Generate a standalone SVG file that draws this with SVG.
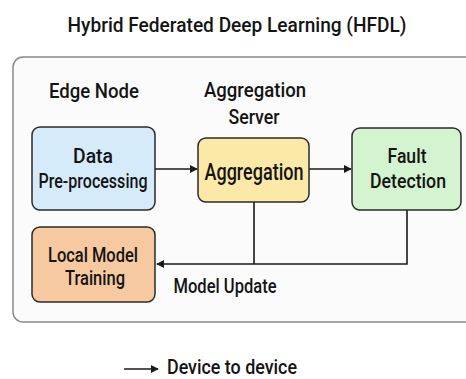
<svg xmlns="http://www.w3.org/2000/svg" width="466" height="379" viewBox="0 0 466 379">
<defs>
<marker id="ah" viewBox="0 0 10 10" refX="9" refY="5" markerWidth="8" markerHeight="8" markerUnits="userSpaceOnUse" orient="auto">
<path d="M0,0 L10,5 L0,10 z" fill="#1a1a1a"/>
</marker>
<style>
text{font-family:Roboto,"Liberation Sans",sans-serif;fill:#141414;text-anchor:middle;font-weight:500}
.box{stroke:#2a2a2a;stroke-width:1.5}
.ln{stroke:#1a1a1a;stroke-width:1.6;fill:none}
</style>
</defs>
<rect width="466" height="379" fill="#ffffff"/>
<text x="237" y="32" font-size="21" textLength="339" lengthAdjust="spacingAndGlyphs">Hybrid Federated Deep Learning (HFDL)</text>
<rect x="13" y="57" width="470" height="265" rx="10" fill="#fbfbfb" stroke="#8a8a8a" stroke-width="1.5"/>
<g id="labels">
<text x="94" y="98" font-size="21" textLength="90" lengthAdjust="spacingAndGlyphs">Edge Node</text>
<text x="255" y="97" font-size="21" textLength="102" lengthAdjust="spacingAndGlyphs">Aggregation</text>
<text x="254" y="124" font-size="21" textLength="51" lengthAdjust="spacingAndGlyphs">Server</text>
</g>
<g id="connectors">
<line class="ln" x1="155" y1="169" x2="197" y2="169" marker-end="url(#ah)"/>
<line class="ln" x1="309" y1="169" x2="351" y2="169" marker-end="url(#ah)"/>
<polyline class="ln" points="254,202 254,264"/>
<polyline class="ln" points="407,210 407,264 157,264" marker-end="url(#ah)"/>
<text x="225" y="293" font-size="20" textLength="103" lengthAdjust="spacingAndGlyphs">Model Update</text>
</g>
<g id="data">
<rect class="box" x="32" y="127" width="123" height="83" rx="8" fill="#d5ebfa"/>
<text x="93" y="163" font-size="21" textLength="40" lengthAdjust="spacingAndGlyphs">Data</text>
<text x="93" y="188" font-size="20" textLength="109" lengthAdjust="spacingAndGlyphs">Pre-processing</text>
</g>
<g id="aggregation">
<rect class="box" x="198" y="138" width="111" height="64" rx="8" fill="#fce9a8"/>
<text x="254" y="180" font-size="23" textLength="99" lengthAdjust="spacingAndGlyphs">Aggregation</text>
</g>
<g id="fault">
<rect class="box" x="352" y="128" width="109" height="82" rx="8" fill="#d4f3cf"/>
<text x="407" y="163" font-size="21" textLength="39" lengthAdjust="spacingAndGlyphs">Fault</text>
<text x="408" y="188" font-size="21" textLength="76" lengthAdjust="spacingAndGlyphs">Detection</text>
</g>
<g id="local">
<rect class="box" x="32" y="227" width="123" height="75" rx="8" fill="#f7c9a0"/>
<text x="93" y="262" font-size="21" textLength="90" lengthAdjust="spacingAndGlyphs">Local Model</text>
<text x="95" y="285" font-size="21" textLength="60" lengthAdjust="spacingAndGlyphs">Training</text>
</g>
<g id="legend">
<line class="ln" x1="124" y1="369" x2="158" y2="369" marker-end="url(#ah)"/>
<text x="232" y="374" font-size="21" textLength="130" lengthAdjust="spacingAndGlyphs">Device to device</text>
</g>
</svg>
